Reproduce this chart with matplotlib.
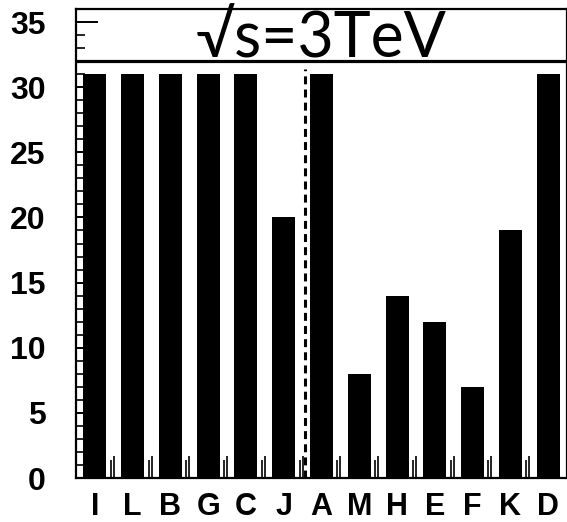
import numpy as np
import matplotlib
matplotlib.use("Agg")
import matplotlib.pyplot as plt
from matplotlib.ticker import MultipleLocator, FixedLocator

# Number of points per benchmark model at sqrt(s) = 3 TeV
models = ["I", "L", "B", "G", "C", "J", "A", "M", "H", "E", "F", "K", "D"]
counts = [31, 31, 31, 31, 31, 20, 31, 8, 14, 12, 7, 19, 31]
yticks = [0, 5, 10, 15, 20, 25, 30, 35]
y_max = 36
header_level = 32
split_after = 5  # index of last model left of the divider

fig = plt.figure(figsize=(5.67, 5.22), dpi=100)
ax = fig.add_axes([76 / 567, 44 / 522, 491 / 567, 469 / 522])

x = np.arange(len(models))
ax.bar(x, counts, width=0.61, color="black", edgecolor="none", zorder=2)

ax.set_xlim(-0.5, len(models) - 0.5)
ax.set_ylim(0, y_max)

# header band separating the title from the data
ax.axhline(header_level, color="black", lw=2.3, zorder=3)
ax.text(np.mean(ax.get_xlim()), header_level + 0.3, "\u221as=3TeV",
        ha="center", va="baseline", fontsize=45,
        family=["Lato", "DejaVu Sans"], fontweight="normal", zorder=4)

# divider between the two model groups
ax.plot([split_after + 0.55, split_after + 0.55], [0, header_level - 0.6],
        color="black", lw=2.2, ls=(0, (2.6, 1.7)), zorder=3)

for s in ax.spines.values():
    s.set_linewidth(1.6)

# y axis: inward ticks every unit, longer every five
ax.yaxis.set_major_locator(FixedLocator(yticks))
ax.yaxis.set_minor_locator(MultipleLocator(1))
ax.tick_params(axis="y", which="major", direction="in", length=16, width=1.4,
               labelsize=23, pad=22)
ax.tick_params(axis="y", which="minor", direction="in", length=6.5, width=1.2)
for lab in ax.get_yticklabels():
    lab.set_family(["Liberation Sans", "DejaVu Sans"])
    lab.set_fontweight("bold")

# x axis: labels at model centres, short double ticks at bin edges
edges = np.arange(len(models) - 1) + 0.5
ax.set_xticks(x, models)
ax.xaxis.set_minor_locator(FixedLocator(edges))
ax.tick_params(axis="x", which="major", length=0, labelsize=22, pad=10)
ax.tick_params(axis="x", which="minor", direction="in", length=16, width=1.2)
for lab in ax.get_xticklabels():
    lab.set_family(["Liberation Sans", "DejaVu Sans"])
    lab.set_fontweight("bold")
ax.vlines(edges - 0.08, 0, 1.4, color="black", lw=1.2, zorder=3)

fig.savefig("out.png", dpi=100)
